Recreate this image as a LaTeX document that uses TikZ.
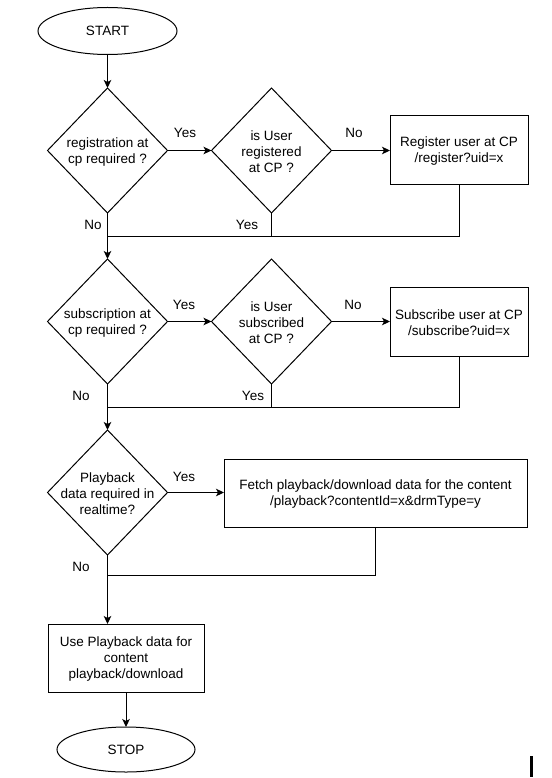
\documentclass[tikz,border=0pt]{standalone}
\usepackage{fontspec}
\setmainfont{Liberation Sans}
\usetikzlibrary{shapes.geometric,arrows.meta}
\begin{document}
\begin{tikzpicture}[x=1pt,y=-1pt,
  font=\fontsize{13.5}{16}\selectfont,
  every node/.style={inner sep=0pt, outer sep=0pt},
  term/.style={draw, ellipse, minimum width=139pt, minimum height=47pt, line width=1pt},
  dia/.style={draw, diamond, minimum width=120pt, minimum height=125pt, line width=1pt},
  procbox/.style={draw, rectangle, line width=1pt},
  txt/.style={align=center, yshift=-1.5pt},
  arr/.style={line width=1pt, -{Stealth[length=8pt,width=7.5pt,inset=2pt]}},
  ln/.style={line width=1pt},
]
\useasboundingbox (0,0) rectangle (551,778);

% terminals
\node[term] (start) at (107.5,31) {START};
\node[term, minimum width=138pt, minimum height=45pt] (stop) at (126,749.5) {STOP};

% decisions
\node[dia] (d1) at (107.5,150.5) {};
\node[txt] (d1t) at (d1) {registration at\\cp required ?};
\node[dia] (d2) at (271.5,150.5) {};
\node[txt] (d2t) at (d2) {is User\\registered\\at CP ?};
\node[dia] (d3) at (107.5,321.5) {};
\node[txt] (d3t) at (d3) {subscription at\\cp required ?};
\node[dia] (d4) at (271.5,321.5) {};
\node[txt] (d4t) at (d4) {is User\\subscribed\\at CP ?};
\node[dia] (d5) at (107.5,492.5) {};
\node[txt] (d5t) at (d5) {Playback\\data required in\\realtime?};

% processes
\node[procbox, minimum width=138pt, minimum height=68pt] (reg) at (459,150) {};
\node[txt] (regt) at (reg) {Register user at CP\\/register?uid=x};
\node[procbox, minimum width=138pt, minimum height=69pt] (sub) at (459,321.5) {};
\node[txt] (subt) at (sub) {Subscribe user at CP\\/subscribe?uid=x};
\node[procbox, minimum width=303pt, minimum height=68pt] (fetch) at (375.5,493) {};
\node[txt] (fetcht) at (fetch) {Fetch playback/download data for the content\\/playback?contentId=x\&drmType=y};
\node[procbox, minimum width=156pt, minimum height=68pt] (use) at (126,658) {};
\node[txt] (uset) at (use) {Use Playback data for\\content\\playback/download};

% junctions
\coordinate (j1) at (107.5,236);
\coordinate (j2) at (107.5,407);
\coordinate (j3) at (107.5,575);

% connectors
\draw[arr] (start) -- (d1);
\draw[arr] (d1.east) -- (d2.west);
\draw[arr] (d2.east) -- (d2.east -| reg.west);
\draw[arr] (d1.south) -- (d3.north);
\draw[ln] (reg.south) |- (j1);
\draw[ln] (d2.south) -- (d2.south |- j1);

\draw[arr] (d3.east) -- (d4.west);
\draw[arr] (d4.east) -- (d4.east -| sub.west);
\draw[arr] (d3.south) -- (d5.north);
\draw[ln] (sub.south) |- (j2);
\draw[ln] (d4.south) -- (d4.south |- j2);

\draw[arr] (d5.east) -- (d5.east -| fetch.west);
\draw[ln] (fetch.south) |- (j3);
\draw[arr] (d5.south) -- (d5.south |- use.north);
\draw[arr] (use.south) -- (use.south |- stop.north);

% labels
\node (y1) at (185,133) {Yes};
\node (n1) at (93,225) {No};
\node (y2) at (247,225) {Yes};
\node (n2) at (354,133) {No};
\node (y3) at (184,305) {Yes};
\node (n3) at (81,396) {No};
\node (y4) at (253,396) {Yes};
\node (n4) at (353,305) {No};
\node (y5) at (184,477) {Yes};
\node (n5) at (81,567) {No};

% cursor mark
\fill (530,756) rectangle (532.5,777);
\end{tikzpicture}
\end{document}
